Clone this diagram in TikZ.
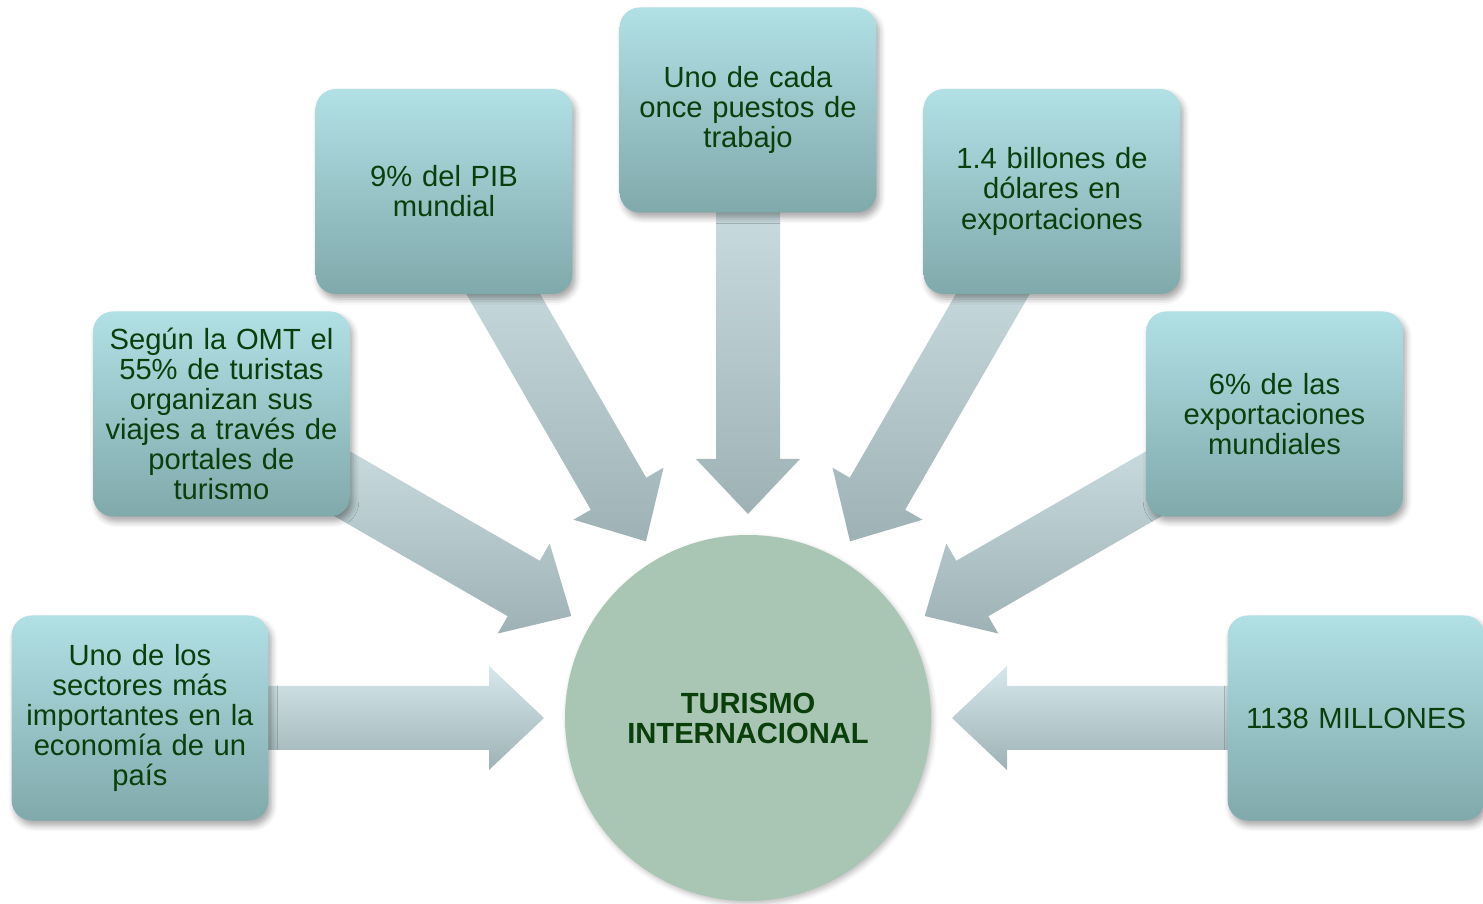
\documentclass[tikz,border=0pt]{standalone}
\usepackage{fontspec}
\setmainfont{Liberation Sans}
\usetikzlibrary{calc,shadows.blur}

\definecolor{boxtop}{RGB}{177,224,229}
\definecolor{boxbot}{RGB}{128,169,171}
\definecolor{arrtop}{RGB}{214,232,235}
\definecolor{arrbot}{RGB}{158,177,180}
\definecolor{hubfill}{RGB}{169,198,180}
\definecolor{txtgreen}{RGB}{10,62,10}

\pgfdeclarelayer{background}
\pgfsetlayers{background,main}

\tikzset{
	infobox/.style={rectangle, rounded corners=0.4cm, minimum width=5.1cm, minimum height=4.1cm,
		top color=boxtop, bottom color=boxbot, text=txtgreen, align=center, text width=4.9cm,
		font=\fontsize{16.6}{17.1}\selectfont,
		blur shadow={shadow xshift=0.6mm, shadow yshift=-1mm, shadow blur radius=1.2mm, shadow opacity=35}},
	hubcircle/.style={circle, minimum size=7.32cm, inner sep=0pt, fill=hubfill, text=txtgreen, align=center,
		font=\fontsize{16.6}{17.1}\selectfont\bfseries,
		blur shadow={shadow xshift=0.4mm, shadow yshift=-0.6mm, shadow blur radius=1mm, shadow opacity=25}},
	arrowfill/.style={top color=arrtop, bottom color=arrbot}
}

\begin{document}
\begin{tikzpicture}
	\useasboundingbox (0,0) rectangle (29.66,18.06);

	\node[hubcircle] (hub) at (14.96,3.70) {TURISMO\\INTERNACIONAL};

	\node[infobox] (b1) at ($(hub)+(180:12.16)$) {Uno de los\\sectores más\\importantes en la\\economía de un\\país};
	\node[infobox] (b2) at ($(hub)+(150:12.16)$) {Según la OMT el\\55\% de turistas\\organizan sus\\viajes a través de\\portales de\\turismo};
	\node[infobox] (b3) at ($(hub)+(120:12.16)$) {9\% del PIB\\mundial};
	\node[infobox] (b4) at ($(hub)+(90:12.16)$) {Uno de cada\\once puestos de\\trabajo};
	\node[infobox] (b5) at ($(hub)+(60:12.16)$) {1.4 billones de\\dólares en\\exportaciones};
	\node[infobox] (b6) at ($(hub)+(30:12.16)$) {6\% de las\\exportaciones\\mundiales};
	\node[infobox] (b7) at ($(hub)+(0:12.16)$) {1138 MILLONES};

	% block arrows, from each box towards the hub
	\begin{pgfonlayer}{background}
		\foreach \i in {1,...,7} {
			\coordinate (hb) at ($(hub.center)!5.18cm!(b\i.center)$);
			\shade[arrowfill] ($(hub.center)!4.08cm!(b\i.center)$)
				-- ($(hb)!1.04cm!90:(b\i.center)$) -- ($(hb)!0.64cm!90:(b\i.center)$)
				-- ($(b\i.center)!0.64cm!-90:(hub.center)$) -- ($(b\i.center)!0.64cm!90:(hub.center)$)
				-- ($(hb)!0.64cm!-90:(b\i.center)$) -- ($(hb)!1.04cm!-90:(b\i.center)$) -- cycle;
		}
	\end{pgfonlayer}
\end{tikzpicture}
\end{document}
